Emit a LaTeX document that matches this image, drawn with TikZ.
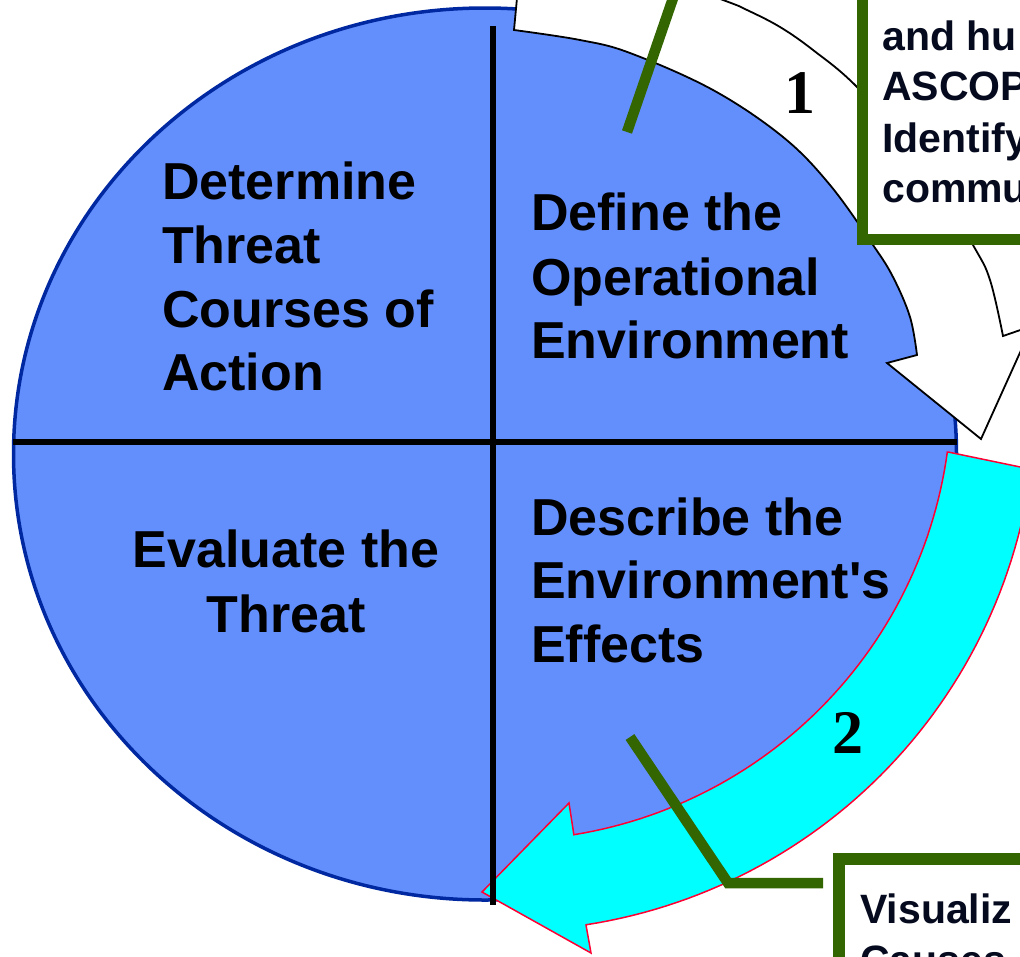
\documentclass[tikz,border=0pt]{standalone}
\usepackage{fontspec}
\setmainfont{Liberation Sans}
\newfontfamily\numfont{Liberation Serif}
\definecolor{qblue}{RGB}{99,143,253}
\definecolor{qedge}{RGB}{0,40,160}
\definecolor{qgreen}{RGB}{51,102,0}
\definecolor{qred}{RGB}{255,0,51}
\definecolor{qcyan}{RGB}{0,255,255}
\definecolor{qtext}{RGB}{5,10,30}
\begin{document}
\begin{tikzpicture}[x=1pt,y=-1pt,
  bigtxt/.style={font=\fontsize{52}{64}\selectfont\bfseries, inner sep=0pt, anchor=base west},
  boxtxt/.style={font=\fontsize{41}{51}\selectfont\bfseries, text=qtext, inner sep=0pt, anchor=base west},
  numtxt/.style={font=\fontsize{62}{70}\selectfont\numfont\bfseries, inner sep=0pt, anchor=base},
  divider/.style={line width=5.5pt, draw=black},
  callout/.style={line width=10.5pt, draw=qgreen, line join=miter},
  calloutbox/.style={line width=11.5pt, draw=qgreen, fill=white},
  whitearrow/.style={fill=white, draw=black, line width=1.8pt, line join=miter},
  cyanarrow/.style={fill=qcyan, draw=qred, line width=1.5pt, line join=miter}
]
\useasboundingbox (0,0) rectangle (1020,956);

% main disc
\draw[fill=qblue, draw=qedge, line width=3.5pt] (485,454) ellipse [x radius=471.5pt, y radius=446pt];

% white curved arrow (step 1)
\path[whitearrow] (522,-55) -- plot[smooth, tension=0.6] coordinates {(514,30) (580,40) (630,53) (713,90) (783,137) (830,185) (873,245) (893,277) (910,317) (917,355)}
  -- (887,363) -- (981,439) -- (1032,326) -- (1003,336)
  -- plot[smooth, tension=0.6] coordinates {(1003,336) (990,280) (973,245) (923,161) (857,87) (813,50) (780,27) (747,10) (723,0) (618,-38) (522,-55)} -- cycle;

% cyan curved arrow (step 2)
\path[cyanarrow] (948,452)
  -- plot[domain=7.8:80.8, samples=60, variable=\t] ({502+449.5*cos(\t)}, {391+449.5*sin(\t)})
  -- (569,803) -- (482,892) -- (591,953) -- (586,925)
  -- plot[domain=81.2:7.5, samples=60, variable=\t] ({505+531*cos(\t)}, {400+531*sin(\t)})
  -- cycle;

% quadrant dividers
\coordinate (vtop) at (493,26);
\coordinate (vbot) at (493,905);
\coordinate (hleft) at (13,442);
\coordinate (hright) at (957,442);
\draw[divider] (vtop) -- (vbot);
\draw[divider] (hleft) -- (hright);

% quadrant texts
\node[bigtxt] (d1) at (162,199) {Determine};
\node[bigtxt] (d2) at (162,263) {Threat};
\node[bigtxt] (d3) at (162,327) {Courses of};
\node[bigtxt] (d4) at (162,390) {Action};

\node[bigtxt] (o1) at (531,230) {Define the};
\node[bigtxt] (o2) at (531,295) {Operational};
\node[bigtxt] (o3) at (531,358) {Environment};

\node[bigtxt, anchor=base] (e1) at (286,567) {Evaluate the};
\node[bigtxt, anchor=base] (e2) at (286,632) {Threat};

\node[bigtxt] (s1) at (531,535) {Describe the};
\node[bigtxt] (s2) at (531,598) {Environment\textquotesingle s};
\node[bigtxt] (s3) at (531,662) {Effects};

% step numbers
\node[numtxt] (n1) at (800,113) {1};
\node[numtxt] (n2) at (848,753) {2};

% callout 1
\coordinate (c1a) at (627,132);
\coordinate (c1b) at (681,-25);
\draw[callout] (c1a) -- (c1b);
\draw[calloutbox] (862.5,239.5) rectangle (1100,-100);
\node[boxtxt] (b1) at (882,50) {and hu};
\node[boxtxt] (b2) at (882,100) {ASCOP};
\node[boxtxt] (b3) at (882,152) {Identify};
\node[boxtxt] (b4) at (882,202) {commu};

% callout 2
\coordinate (c2a) at (630,737);
\coordinate (c2b) at (728,883);
\coordinate (c2c) at (823,883);
\draw[callout] (c2a) -- (c2b) -- (c2c);
\draw[calloutbox] (839,859) rectangle (1100,1100);
\node[boxtxt] (v1) at (860,923) {Visualiz};
\node[boxtxt] (v2) at (860,974) {Causes};
\end{tikzpicture}
\end{document}
